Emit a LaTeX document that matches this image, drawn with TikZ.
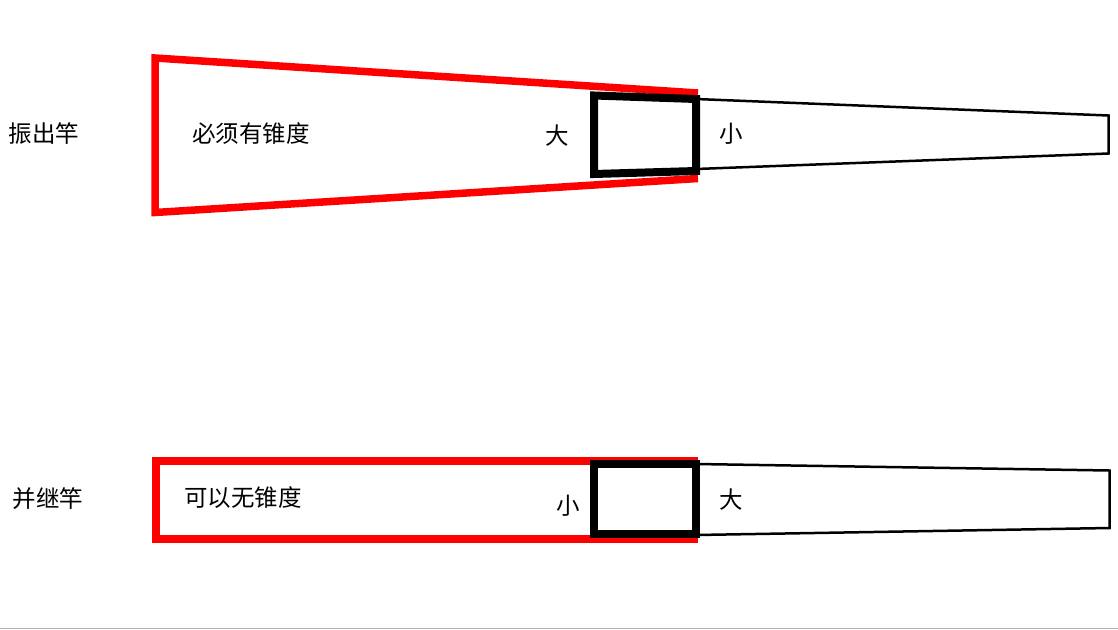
\documentclass[tikz,border=0pt]{standalone}
\usepackage{fontspec}
\newfontfamily\cjk{Noto Sans CJK SC}
\begin{document}
\begin{tikzpicture}[x=1pt,y=-1pt,
  redline/.style={draw={rgb,255:red,255;green,0;blue,0}, line width=7.5pt, line join=miter},
  boxline/.style={draw=black, line width=8pt, line join=miter},
  rodline/.style={draw=black, line width=2.5pt, line join=miter},
  lbl/.style={font=\cjk\fontsize{23.5}{23.5}\selectfont, inner sep=0pt, anchor=center}]
\useasboundingbox (0,0) rectangle (1118,629);
\draw[black!30, line width=1pt] (0,628.5) -- (1118,628.5);
% top rod (振出竿)
\draw[redline] (698,93) -- (155,58) -- (155,212.5) -- (698,178.5);
\draw[rodline] (696,99) -- (1108.5,115.5) -- (1108.5,153.5) -- (696,169) -- cycle;
\draw[boxline] (594,95.5) -- (696,99) -- (696,171) -- (594,174) -- cycle;
\node[lbl] (t1) at (44,134) {振出竿};
\node[lbl] (t2) at (251,134) {必须有锥度};
\node[lbl] (t3) at (557,136) {大};
\node[lbl] (t4) at (731,134) {小};
% bottom rod (并继竿)
\draw[redline] (698,461) -- (156,461) -- (156,539) -- (698,539);
\draw[rodline] (696,464) -- (1109.5,470.5) -- (1109.5,528) -- (696,535) -- cycle;
\draw[boxline] (594,464) rectangle (696,534);
\node[lbl] (b1) at (48,499) {并继竿};
\node[lbl] (b2) at (243,498) {可以无锥度};
\node[lbl] (b3) at (568,506) {小};
\node[lbl] (b4) at (731,500) {大};
\end{tikzpicture}
\end{document}
